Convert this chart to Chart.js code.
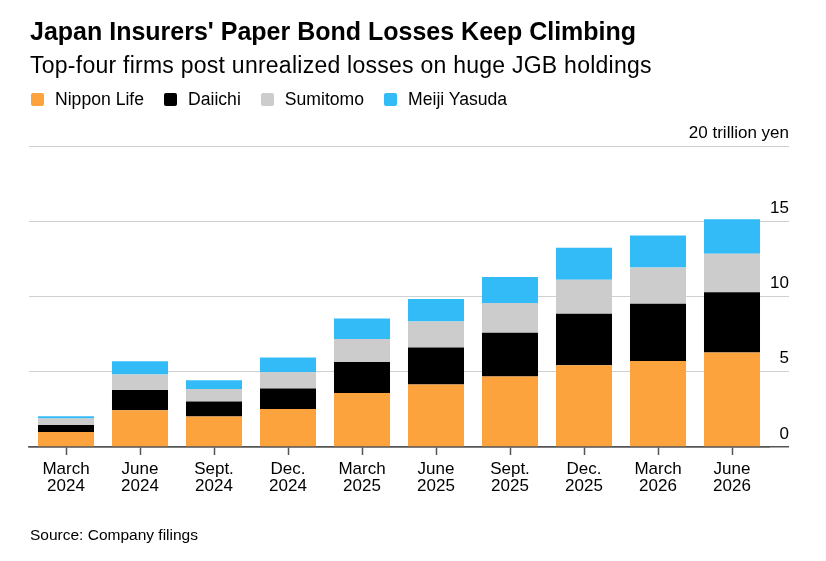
<!DOCTYPE html>
<html>
<head>
<meta charset="utf-8">
<script src="https://cdn.jsdelivr.net/npm/chart.js@4"></script>
<style>
  body { margin: 0; background: #fff; font-family: "Liberation Sans", Arial, sans-serif; color: #000; }
  #wrap { position: relative; width: 826px; height: 561px; }
  #wrap canvas { position: absolute; left: 0; top: 0; }
  .txt { position: absolute; left: 30px; white-space: nowrap; }
  #title { top: 19px; font-size: 25px; line-height: 25px; font-weight: bold; }
  #subtitle { top: 54px; font-size: 23px; line-height: 23px; letter-spacing: 0.25px; }
  #legend { top: 90px; left: 31px; font-size: 17.6px; line-height: 18px; display: flex; }
  #legend .item { display: flex; align-items: center; margin-right: 20px; }
  #legend .box { width: 13px; height: 13px; border-radius: 2px; margin-right: 11px; }
  #source { top: 527px; font-size: 15.5px; line-height: 15.5px; }
</style>
</head>
<body>
<div id="wrap">
  <canvas id="chart" width="826" height="561"></canvas>
  <div class="txt" id="title">Japan Insurers' Paper Bond Losses Keep Climbing</div>
  <div class="txt" id="subtitle">Top-four firms post unrealized losses on huge JGB holdings</div>
  <div class="txt" id="legend"></div>
  <div class="txt" id="source">Source: Company filings</div>
</div>
<script>
// Unrealized bond losses, trillion yen
const periods = [
  ['March', '2024'], ['June', '2024'], ['Sept.', '2024'], ['Dec.', '2024'],
  ['March', '2025'], ['June', '2025'], ['Sept.', '2025'], ['Dec.', '2025'],
  ['March', '2026'], ['June', '2026']
];
const nipponLife  = [1.00, 2.44, 2.02, 2.53, 3.59, 4.15, 4.68, 5.44, 5.72, 6.28];
const daiichi     = [0.46, 1.35, 1.00, 1.36, 2.05, 2.46, 2.91, 3.41, 3.79, 4.01];
const sumitomo    = [0.43, 1.03, 0.84, 1.10, 1.53, 1.73, 1.97, 2.26, 2.42, 2.55];
const meijiYasuda = [0.15, 0.88, 0.58, 0.96, 1.37, 1.49, 1.73, 2.13, 2.13, 2.29];
const yTicks = [0, 5, 10, 15, 20];

const series = [
  { label: 'Nippon Life', data: nipponLife, color: '#fda33e' },
  { label: 'Daiichi', data: daiichi, color: '#000000' },
  { label: 'Sumitomo', data: sumitomo, color: '#cccccc' },
  { label: 'Meiji Yasuda', data: meijiYasuda, color: '#33bbf8' }
];

// legend row
const legendEl = document.getElementById('legend');
series.forEach(s => {
  const item = document.createElement('div');
  item.className = 'item';
  item.innerHTML = `<span class="box" style="background:${s.color}"></span><span>${s.label}</span>`;
  legendEl.appendChild(item);
});

const font = { family: '"Liberation Sans", Arial, sans-serif', size: 17 };

new Chart(document.getElementById('chart'), {
  type: 'bar',
  data: {
    labels: periods,
    datasets: series.map(s => ({
      label: s.label,
      data: s.data,
      backgroundColor: s.color,
      borderWidth: 0,
      barPercentage: 0.757,
      categoryPercentage: 1.0
    }))
  },
  options: {
    responsive: false,
    animation: false,
    layout: { padding: { left: 29, right: 37, top: 146, bottom: 54 } },
    plugins: {
      legend: { display: false },
      tooltip: { enabled: false }
    },
    scales: {
      x: {
        stacked: true,
        grid: {
          offset: false,
          drawOnChartArea: false,
          drawTicks: true,
          tickLength: 8,
          tickWidth: 1.5,
          tickColor: '#555'
        },
        border: { display: true, color: '#555', width: 1.5 },
        ticks: {
          color: '#000',
          font: { ...font, lineHeight: 1 },
          padding: 6,
          maxRotation: 0,
          autoSkip: false
        },
        afterFit: scale => { scale.height = 60; }
      },
      y: {
        stacked: true,
        position: 'right',
        min: 0,
        max: 20,
        afterBuildTicks: scale => { scale.ticks = yTicks.map(v => ({ value: v })); },
        grid: {
          color: ctx => ctx.tick && ctx.tick.value === 0 ? '#555' : '#d0d0d0',
          lineWidth: ctx => ctx.tick && ctx.tick.value === 0 ? 1.5 : 1,
          drawTicks: true,
          tickLength: 20
        },
        border: { display: false },
        ticks: {
          color: '#000',
          font: font,
          mirror: true,
          crossAlign: 'near',
          padding: 20,
          labelOffset: -13,
          callback: v => v === 20 ? '20 trillion yen' : v
        },
        afterFit: scale => { scale.width = 20; }
      }
    }
  }
});
</script>
</body>
</html>
